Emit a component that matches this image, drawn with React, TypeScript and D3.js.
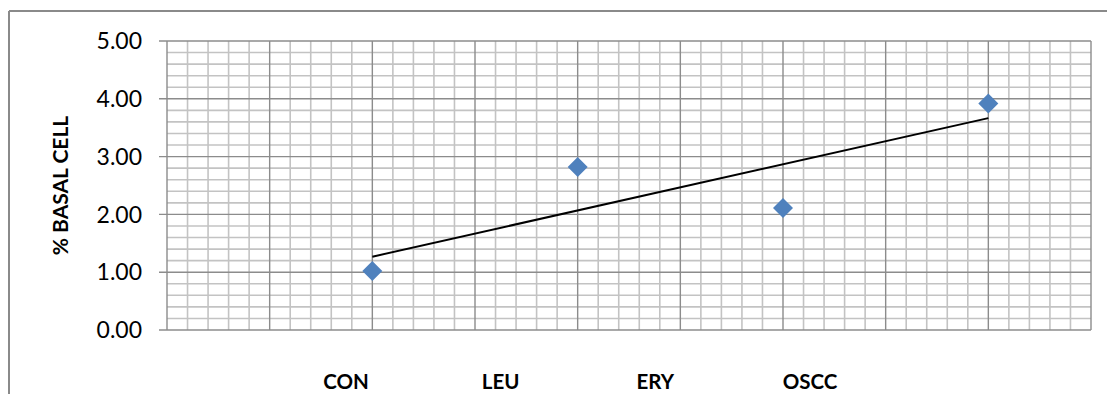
import React from "react";
import * as d3 from "d3";

// Groups and their mean % basal cell values, plotted at x = 2, 4, 6, 8
const groups = ["CON", "LEU", "ERY", "OSCC"];
const groupX = [2, 4, 6, 8];
const basalPct = [1.02, 2.82, 2.11, 3.92];
const yTicks = [0, 1, 2, 3, 4, 5];

const W = 1107;
const H = 394;
const plot = { left: 167, right: 1091, top: 41, bottom: 330 };

export default function App() {
  const x = d3.scaleLinear().domain([0, 9]).range([plot.left, plot.right]);
  const y = d3.scaleLinear().domain([0, 5]).range([plot.bottom, plot.top]);
  const labelX = d3.scalePoint<string>().domain(groups).range([346, 810]);

  // least-squares linear trend through the four points
  const mx = d3.mean(groupX)!;
  const my = d3.mean(basalPct)!;
  const slope =
    d3.sum(groupX.map((gx, i) => (gx - mx) * (basalPct[i] - my))) /
    d3.sum(groupX.map((gx) => (gx - mx) ** 2));
  const trend = (v: number) => my + slope * (v - mx);
  const x0 = d3.min(groupX)!;
  const x1 = d3.max(groupX)!;

  const minorX = d3.range(0, 9.0001, 0.2).filter((v) => Math.abs(v - Math.round(v)) > 1e-6);
  const majorX = d3.range(0, 10, 1);
  const minorY = d3.range(0, 5.0001, 0.2).filter((v) => Math.abs(v - Math.round(v)) > 1e-6);

  const diamond = d3.symbol(d3.symbolSquare, 200)()!;
  const font = "Lato, 'Open Sans', sans-serif";

  return (
    <svg
      width={W}
      height={H}
      style={{ position: "absolute", left: 0, top: 0, background: "#fff" }}
    >
      {/* chart frame */}
      <line x1={9} x2={W + 5} y1={11} y2={11} stroke="#8a8a8a" strokeWidth={2} />
      <line x1={9} x2={9} y1={11} y2={H + 5} stroke="#8a8a8a" strokeWidth={2} />

      {/* minor gridlines */}
      <g stroke="#c3c3c3" strokeWidth={1.6}>
        {minorX.map((v) => (
          <line key={"mx" + v} x1={x(v)} x2={x(v)} y1={plot.top} y2={plot.bottom} />
        ))}
        {minorY.map((v) => (
          <line key={"my" + v} x1={plot.left} x2={plot.right} y1={y(v)} y2={y(v)} />
        ))}
      </g>

      {/* major gridlines */}
      <g stroke="#8c8c8c" strokeWidth={1.4}>
        {majorX.map((v) => (
          <line key={"MX" + v} x1={x(v)} x2={x(v)} y1={plot.top} y2={plot.bottom} />
        ))}
        {yTicks.map((v) => (
          <line key={"MY" + v} x1={plot.left - 8} x2={plot.right} y1={y(v)} y2={y(v)} />
        ))}
      </g>

      {/* y tick labels */}
      {yTicks.map((v) => (
        <text
          key={"t" + v}
          x={142}
          y={y(v)}
          dy="0.36em"
          textAnchor="end"
          fontFamily={font}
          fontSize={23}
          fill="#000"
        >
          {v.toFixed(2)}
        </text>
      ))}

      {/* y axis title */}
      <text
        transform={`translate(68, ${(plot.top + plot.bottom) / 2}) rotate(-90)`}
        textAnchor="middle"
        fontFamily={font}
        fontWeight="bold"
        fontSize={21}
        fill="#000"
      >
        % BASAL CELL
      </text>

      {/* trend line */}
      <line
        x1={x(x0)}
        y1={y(trend(x0))}
        x2={x(x1)}
        y2={y(trend(x1))}
        stroke="#000"
        strokeWidth={2}
      />

      {/* data markers */}
      {groupX.map((gx, i) => (
        <path
          key={"p" + i}
          d={diamond}
          transform={`translate(${x(gx)}, ${y(basalPct[i])}) rotate(45)`}
          fill="#4f81bd"
        />
      ))}

      {/* group labels */}
      {groups.map((g) => (
        <text
          key={g}
          x={labelX(g)}
          y={389}
          textAnchor="middle"
          fontFamily={font}
          fontWeight="bold"
          fontSize={20.5}
          fill="#000"
        >
          {g}
        </text>
      ))}
    </svg>
  );
}
